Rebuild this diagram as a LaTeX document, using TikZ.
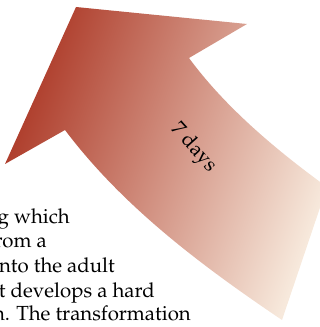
\documentclass[tikz,border=0pt]{standalone}
\IfFileExists{mathpazo.sty}{\usepackage[T1]{fontenc}\usepackage{mathpazo}}{\usepackage{fontspec}\setmainfont{Liberation Serif}}
\definecolor{arrowdark}{RGB}{173,58,40}
\definecolor{arrowmid}{RGB}{206,128,90}
\definecolor{arrowlight}{RGB}{247,233,220}
\begin{document}
\begin{tikzpicture}[x=1pt, y=1pt,
    txt/.style={inner sep=0pt, font=\fontsize{20.4}{24.4}\selectfont}]

    \useasboundingbox (0,0) rectangle (320,327);
    \clip (0,0) rectangle (320,327);

    % 1. Paragraph text, cut off at the left edge
    \node[txt, anchor=base east] (line1) at (70,103) {g which};
    \node[txt, anchor=base east] (line2) at (47,79) {rom a};
    \node[txt, anchor=base east] (line3) at (115,54) {into the adult};
    \node[txt, anchor=base east] (line4) at (155,30) {t develops a hard};
    \node[txt, anchor=base east] (line5) at (191,6) {n. The transformation};

    % 2. Curved arrow with gradient fill
    \shade[left color=arrowdark, middle color=arrowmid, right color=arrowlight, shading angle=70]
        (76,320) -- (247,303) -- (189,269)
        .. controls (225,220) and (276,177) .. (327,140)
        -- (282,7)
        .. controls (202,61) and (123,120) .. (65,197)
        -- (5,163) -- cycle;

    % 3. Label on the arrow
    \node[txt, rotate=-48] (days) at (193,179) {7 days};
\end{tikzpicture}
\end{document}
